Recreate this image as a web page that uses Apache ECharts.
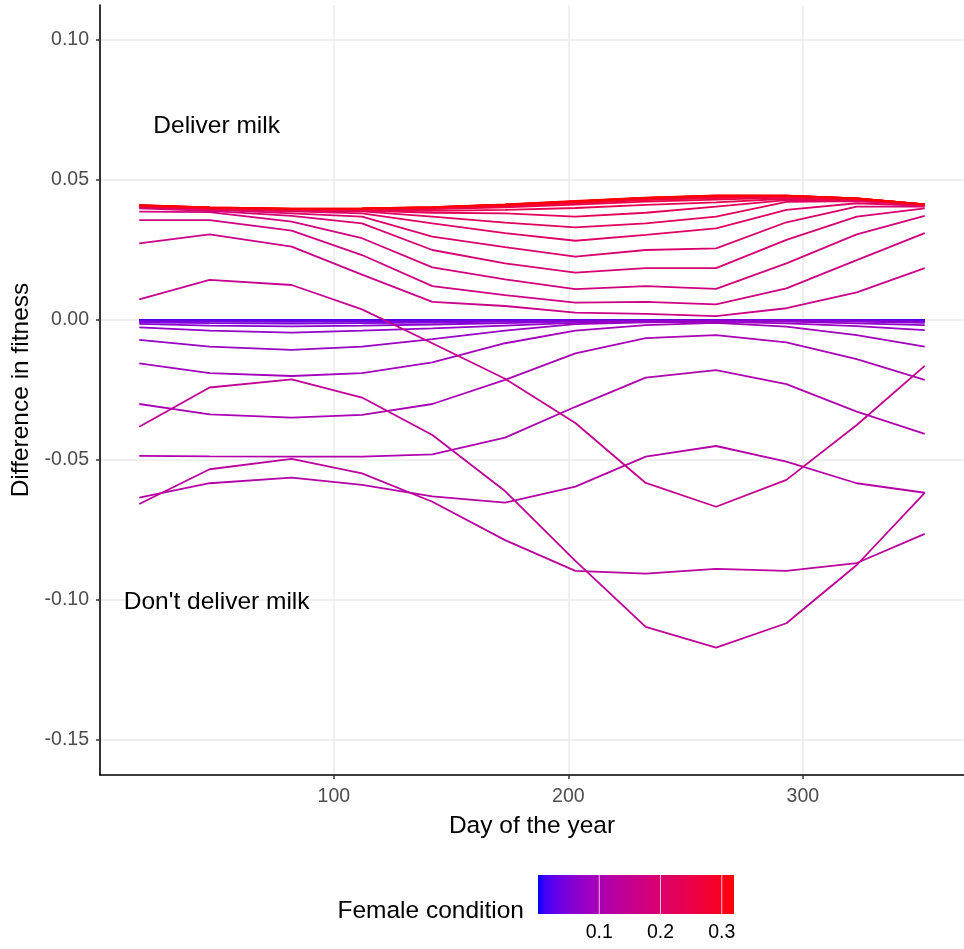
<!DOCTYPE html>
<html>
<head>
<meta charset="utf-8">
<script src="https://cdn.jsdelivr.net/npm/echarts@6/dist/echarts.min.js"></script>
<style>
html,body{margin:0;padding:0;background:#fff;}
#chart{width:964px;height:949px;}
</style>
</head>
<body>
<div id="chart"></div>
<script>
// ---- data ----
const days = [17, 47, 82, 112, 142, 173, 203, 233, 263, 293, 323, 352];
const conditions = [0.00,0.01,0.02,0.03,0.04,0.05,0.06,0.07,0.08,0.09,0.10,0.11,0.12,0.13,0.14,0.15,0.16,0.17,0.18,0.19,0.20,0.21,0.22,0.23,0.24,0.25,0.26,0.27,0.28,0.29,0.30,0.31,0.32];
const xTicks = [100, 200, 300];
const yTicks = [-0.15, -0.10, -0.05, 0.00, 0.05, 0.10];
const legendTicks = [0.1, 0.2, 0.3];

const fc00 = [0,0,0,0,0,0,0,0,0,0,0,0];
const fc01 = [0,0,0,0,0,0,0,0,0,0,0,0];
const fc02 = [-0.0001,-0.0001,-0.0001,-0.0001,-0.0001,-0.0001,0,0,0,0,0,-0.0001];
const fc03 = [-0.0002,-0.0003,-0.0004,-0.0003,-0.0003,-0.0002,-0.0001,-0.0001,0,-0.0001,-0.0001,-0.0002];
const fc04 = [-0.0004,-0.0006,-0.0007,-0.0006,-0.0005,-0.0003,-0.0002,-0.0001,-0.0001,-0.0001,-0.0002,-0.0004];
const fc05 = [-0.0008,-0.0011,-0.0013,-0.0011,-0.0009,-0.0006,-0.0003,-0.0002,-0.0001,-0.0002,-0.0004,-0.0007];
const fc06 = [-0.0014,-0.0020,-0.0023,-0.0020,-0.0016,-0.0011,-0.0006,-0.0003,-0.0002,-0.0003,-0.0006,-0.0010];
const fc07 = [-0.0026,-0.0038,-0.0045,-0.0038,-0.0030,-0.0020,-0.0010,-0.0006,-0.0004,-0.0006,-0.0012,-0.0018];
const fc08 = [-0.0071,-0.0095,-0.0107,-0.0095,-0.0068,-0.0038,-0.0015,-0.0008,-0.0007,-0.0012,-0.0022,-0.0036];
const fc09 = [-0.0155,-0.0190,-0.0200,-0.0190,-0.0151,-0.0083,-0.0038,-0.0018,-0.0010,-0.0024,-0.0054,-0.0095];
const fc10 = [-0.0300,-0.0337,-0.0349,-0.0339,-0.0300,-0.0214,-0.0119,-0.0065,-0.0054,-0.0080,-0.0140,-0.0214];
const fc11 = [-0.0485,-0.0487,-0.0488,-0.0488,-0.0480,-0.0420,-0.0310,-0.0206,-0.0179,-0.0229,-0.0327,-0.0407];
const fc12 = [-0.0634,-0.0583,-0.0563,-0.0589,-0.0630,-0.0652,-0.0595,-0.0488,-0.0450,-0.0506,-0.0583,-0.0617];
const fc13 = [-0.0657,-0.0533,-0.0496,-0.0548,-0.0649,-0.0786,-0.0896,-0.0906,-0.0889,-0.0896,-0.0868,-0.0764];
const fc14 = [-0.0381,-0.0241,-0.0212,-0.0277,-0.0411,-0.0611,-0.0860,-0.1096,-0.1170,-0.1083,-0.0875,-0.0617];
const fc15 = [0.0074,0.0143,0.0125,0.0038,-0.0083,-0.0210,-0.0368,-0.0582,-0.0667,-0.0571,-0.0375,-0.0164];
const fc16 = [0.0274,0.0306,0.0262,0.0162,0.0065,0.0050,0.0026,0.0022,0.0014,0.0042,0.0099,0.0185];
const fc17 = [0.0357,0.0357,0.0319,0.0232,0.0121,0.0089,0.0062,0.0065,0.0056,0.0113,0.0214,0.0310];
const fc18 = [0.0387,0.0385,0.0351,0.0292,0.0188,0.0145,0.0110,0.0121,0.0111,0.0202,0.0306,0.0372];
const fc19 = [0.0399,0.0390,0.0372,0.0345,0.0250,0.0202,0.0169,0.0185,0.0185,0.0286,0.0369,0.0399];
const fc20 = [0.0402,0.0394,0.0381,0.0369,0.0298,0.0260,0.0226,0.0250,0.0256,0.0349,0.0405,0.0405];
const fc21 = [0.0403,0.0395,0.0388,0.0381,0.0345,0.0310,0.0283,0.0304,0.0327,0.0393,0.0417,0.0408];
const fc22 = [0.0404,0.0396,0.0390,0.0388,0.0369,0.0348,0.0331,0.0345,0.0369,0.0422,0.0425,0.0410];
const fc23 = [0.0405,0.0397,0.0392,0.0391,0.0383,0.0381,0.0369,0.0383,0.0405,0.0428,0.0428,0.0411];
const fc24 = [0.0406,0.0398,0.0393,0.0393,0.0390,0.0393,0.0400,0.0411,0.0420,0.0433,0.0430,0.0411];
const fc25 = [0.0406,0.0399,0.0394,0.0395,0.0396,0.0402,0.0412,0.0423,0.0430,0.0437,0.0431,0.0412];
const fc26 = [0.0407,0.0399,0.0395,0.0396,0.0398,0.0406,0.0417,0.0428,0.0435,0.0439,0.0432,0.0412];
const fc27 = [0.0407,0.0400,0.0396,0.0397,0.0400,0.0408,0.0420,0.0431,0.0438,0.0441,0.0433,0.0412];
const fc28 = [0.0408,0.0401,0.0396,0.0397,0.0401,0.0410,0.0422,0.0433,0.0441,0.0442,0.0433,0.0413];
const fc29 = [0.0409,0.0401,0.0397,0.0398,0.0402,0.0411,0.0423,0.0435,0.0442,0.0443,0.0434,0.0413];
const fc30 = [0.0409,0.0401,0.0397,0.0398,0.0402,0.0412,0.0424,0.0436,0.0443,0.0444,0.0434,0.0413];
const fc31 = [0.0410,0.0402,0.0398,0.0399,0.0403,0.0412,0.0424,0.0436,0.0444,0.0444,0.0434,0.0413];
const fc32 = [0.0410,0.0402,0.0398,0.0399,0.0403,0.0413,0.0425,0.0437,0.0445,0.0444,0.0434,0.0413];

const lineValues = [fc00,fc01,fc02,fc03,fc04,fc05,fc06,fc07,fc08,fc09,fc10,fc11,fc12,fc13,fc14,fc15,fc16,fc17,fc18,fc19,fc20,fc21,fc22,fc23,fc24,fc25,fc26,fc27,fc28,fc29,fc30,fc31,fc32];

const annotations = [
  {text: 'Deliver milk', day: 50, value: 0.0693},
  {text: "Don't deliver milk", day: 50, value: -0.1007}
];

// ---- colour scale (CIELAB interpolation blue -> red, like ggplot) ----
function toLin(c){ c/=255; return c<=0.04045 ? c/12.92 : Math.pow((c+0.055)/1.055,2.4); }
function fromLin(v){ v = v<=0.0031308 ? 12.92*v : 1.055*Math.pow(v,1/2.4)-0.055; return Math.round(Math.max(0,Math.min(1,v))*255); }
const Xn=0.95047, Yn=1.0, Zn=1.08883, d=6/29;
function f(t){ return t>d*d*d ? Math.cbrt(t) : t/(3*d*d)+4/29; }
function finv(t){ return t>d ? t*t*t : 3*d*d*(t-4/29); }
function rgb2lab(rgb){
  const r=toLin(rgb[0]), g=toLin(rgb[1]), b=toLin(rgb[2]);
  const X=0.4124564*r+0.3575761*g+0.1804375*b;
  const Y=0.2126729*r+0.7151522*g+0.0721750*b;
  const Z=0.0193339*r+0.1191920*g+0.9503041*b;
  const fx=f(X/Xn), fy=f(Y/Yn), fz=f(Z/Zn);
  return [116*fy-16, 500*(fx-fy), 200*(fy-fz)];
}
function lab2hex(lab){
  const fy=(lab[0]+16)/116, fx=fy+lab[1]/500, fz=fy-lab[2]/200;
  const X=Xn*finv(fx), Y=Yn*finv(fy), Z=Zn*finv(fz);
  const r= 3.2404542*X-1.5371385*Y-0.4985314*Z;
  const g=-0.9692660*X+1.8760108*Y+0.0415560*Z;
  const b= 0.0556434*X-0.2040259*Y+1.0572252*Z;
  return '#'+[r,g,b].map(v=>fromLin(v).toString(16).padStart(2,'0')).join('');
}
const labLow = rgb2lab([0,0,255]), labHigh = rgb2lab([255,0,0]);
const cMin = Math.min.apply(null, conditions), cMax = Math.max.apply(null, conditions);
function colorAt(c){
  const t=(c-cMin)/(cMax-cMin);
  return lab2hex([0,1,2].map(i=>labLow[i]+(labHigh[i]-labLow[i])*t));
}

// ---- chart ----
const FONT = "'Liberation Sans', Arial, sans-serif";
const chart = echarts.init(document.getElementById('chart'), null, {renderer:'canvas'});

const series = lineValues.map((vals, k) => ({
  type: 'line',
  name: 'c' + conditions[k],
  data: days.map((dd, i) => [dd, vals[i]]),
  showSymbol: false,
  symbol: 'none',
  silent: true,
  animation: false,
  lineStyle: {width: 1.8, color: colorAt(conditions[k])},
  emphasis: {disabled: true}
}));

series.push({
  type: 'scatter',
  silent: true,
  animation: false,
  symbolSize: 0,
  itemStyle: {opacity: 1},
  data: annotations.map(a => ({value: [a.day, a.value], label: {formatter: a.text}})),
  label: {show: true, position: 'inside', fontSize: 24.5, color: '#000', opacity: 1, fontFamily: FONT},
  labelLayout: {hideOverlap: false}
});

// colour bar (legend)
const barX = 538, barY = 875, barW = 196, barH = 39;
const stops = [];
for (let i = 0; i <= 30; i++) { const c = cMin + (cMax - cMin) * i / 30; stops.push({offset: i/30, color: colorAt(c)}); }
const graphics = [
  {type: 'rect', shape: {x: barX, y: barY, width: barW, height: barH},
   style: {fill: new echarts.graphic.LinearGradient(0, 0, 1, 0, stops)}, silent: true},
  {type: 'text', style: {text: 'Female condition', x: 524, y: 911, textAlign: 'right', textVerticalAlign: 'middle',
   fontSize: 24.5, fill: '#000', fontFamily: FONT}}
];
legendTicks.forEach(t => {
  const x = barX + (t - cMin) / (cMax - cMin) * barW;
  graphics.push({type: 'line', shape: {x1: x, y1: barY, x2: x, y2: barY + barH},
    style: {stroke: 'rgba(255,255,255,0.75)', lineWidth: 1}, silent: true});
  graphics.push({type: 'text', style: {text: String(t), x: x, y: 933, textAlign: 'center', textVerticalAlign: 'middle',
    fontSize: 19.5, fill: '#000', fontFamily: FONT}});
});

const option = {
  animation: false,
  backgroundColor: '#fff',
  grid: {left: 100, top: 5, width: 867, height: 770},
  xAxis: {
    type: 'value', min: 0.25, max: 368.75, splitNumber: 5,
    name: 'Day of the year', nameLocation: 'middle', nameGap: 39,
    nameTextStyle: {fontSize: 24.5, color: '#000', fontFamily: FONT},
    axisLine: {show: true, onZero: false, lineStyle: {color: '#000', width: 1.6}},
    axisTick: {show: true, length: 4, customValues: xTicks, lineStyle: {color: '#333', width: 1.5}},
    axisLabel: {customValues: xTicks, margin: 12, fontSize: 19.5, color: '#4D4D4D', fontFamily: FONT,
      formatter: v => String(Math.round(v))},
    splitLine: {show: true, lineStyle: {color: '#EBEBEB', width: 1.5}}
  },
  yAxis: {
    type: 'value', min: -0.1625, max: 0.1125, splitNumber: 5,
    name: 'Difference in fitness', nameLocation: 'middle', nameGap: 63, nameRotate: 90,
    nameTextStyle: {fontSize: 24.5, color: '#000', fontFamily: FONT},
    axisLine: {show: true, onZero: false, lineStyle: {color: '#000', width: 1.6}},
    axisTick: {show: true, length: 4, customValues: yTicks, lineStyle: {color: '#333', width: 1.5}},
    axisLabel: {customValues: yTicks, margin: 11, fontSize: 19.5, color: '#4D4D4D', fontFamily: FONT,
      formatter: v => v.toFixed(2)},
    splitLine: {show: true, lineStyle: {color: '#EBEBEB', width: 1.5}}
  },
  series: series,
  graphic: graphics
};
chart.setOption(option);
</script>
</body>
</html>
